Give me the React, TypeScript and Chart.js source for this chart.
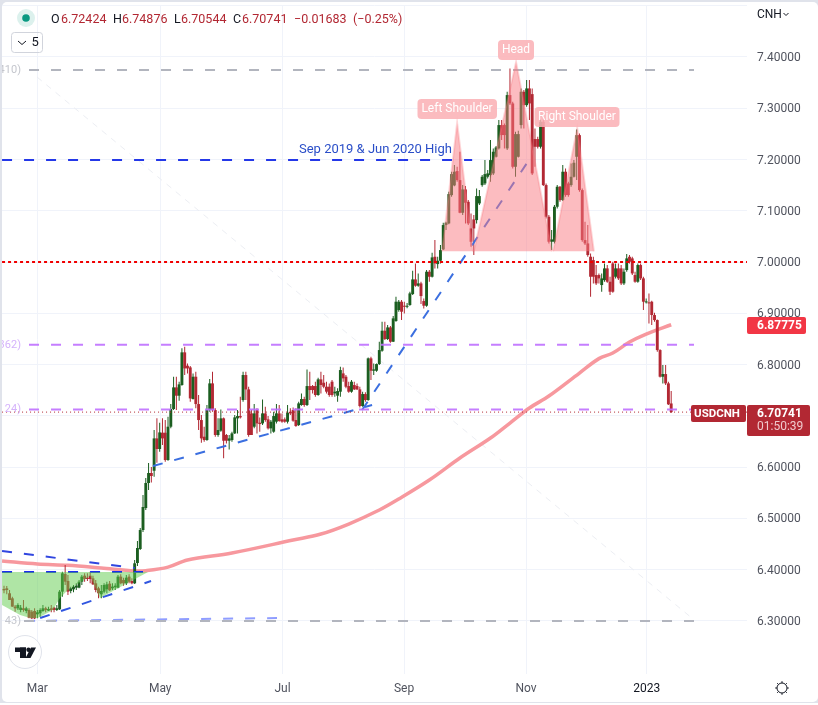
import React, { useEffect, useRef } from "react";
import { Chart, registerables } from "chart.js";

Chart.register(...registerables);

const opens = [
6.3624,6.3637,6.3540,6.3442,6.3280,6.3247,6.3215,6.3247,6.3195,6.3215,
6.3182,6.3195,6.3130,6.3150,6.3195,6.3247,6.3202,6.3247,6.3260,6.3215,
6.3228,6.3572,6.3917,6.3780,6.3585,6.3618,6.3650,6.3650,6.3767,6.3884,
6.3845,6.3884,6.3832,6.3735,6.3637,6.3520,6.3572,6.3618,6.3728,6.3637,
6.3657,6.3650,6.3865,6.3800,6.3735,6.3865,6.3780,6.3735,6.4131,6.4404,
6.4774,6.5203,6.5691,6.5886,6.5930,6.6561,6.6354,6.6672,6.6672,6.6139,
6.6789,6.7134,6.7556,6.7394,6.7602,6.8239,6.7979,6.7946,6.7329,6.7764,
6.7231,6.6919,6.6594,6.6529,6.7114,6.7634,6.7114,6.6627,6.6711,6.6952,
6.6627,6.6516,6.6529,6.6659,6.6952,6.6997,6.7309,6.7797,6.7517,6.7049,
6.6789,6.7114,6.6867,6.6854,6.7049,6.6932,6.6757,6.6692,6.6887,6.7049,
6.6932,6.6932,6.6887,6.7081,6.7114,6.6919,6.6822,6.7212,6.7329,6.7212,
6.7582,6.7582,6.7582,6.7407,6.7712,6.7647,6.7569,6.7569,6.7667,6.7439,
6.7394,6.7472,6.7829,6.7764,6.7582,6.7472,6.7602,6.7582,6.7517,6.7192,
6.7426,6.7309,6.8122,6.7881,6.7881,6.8011,6.8271,6.8661,6.8499,6.8726,
6.8447,6.8850,6.9064,6.9227,6.9142,6.9129,6.9162,6.9376,6.9662,6.9539,
6.9584,6.9240,6.9149,6.9812,6.9714,7.0104,6.9961,7.0026,7.0247,7.0722,
7.0754,7.1306,7.1495,7.1775,7.1599,7.0962,7.1417,7.1176,7.0656,7.0832,
7.0819,7.1144,7.1501,7.1534,7.1664,7.1696,7.1729,7.2054,7.2217,7.2672,
7.2672,7.2217,7.3257,7.3094,7.1859,7.2054,7.2672,7.3322,7.3062,7.3387,
7.3276,7.2399,7.2399,7.2249,7.2737,7.1502,7.0884,7.0397,7.0397,7.1079,
7.1469,7.1209,7.1762,7.1534,7.1502,7.1664,7.2054,7.2476,7.1404,7.0429,
7.0364,7.0104,7.0039,6.9747,6.9747,6.9552,6.9649,6.9877,6.9617,6.9974,
6.9714,6.9877,6.9877,6.9584,6.9844,7.0104,7.0072,6.9747,6.9617,6.9942,
6.9682,6.9214,6.9214,6.9227,6.8967,6.8869,6.8284,6.7764,6.7816,6.7634,6.72424,
];

const highs = [
6.3689,6.3683,6.3604,6.3475,6.3312,6.3345,6.3312,6.3410,6.3280,6.3247,
6.3215,6.3247,6.3215,6.3247,6.3312,6.3280,6.3280,6.3312,6.3280,6.3312,
6.3604,6.3962,6.4092,6.3897,6.3670,6.3702,6.3735,6.3800,6.3897,6.3930,
6.3930,6.3962,6.3884,6.3800,6.3670,6.3702,6.3735,6.3767,6.3780,6.3735,
6.3735,6.3897,6.3910,6.3845,6.3897,6.3910,6.3832,6.4190,6.4560,6.4813,
6.5457,6.5789,6.6081,6.6003,6.6724,6.6952,6.6867,6.6952,6.6919,6.6984,
6.7231,6.7764,6.7764,6.7667,6.8317,6.8349,6.8024,6.7972,6.7829,6.7862,
6.7407,6.7017,6.6789,6.7212,6.7719,6.7862,6.7147,6.6952,6.7127,6.6971,
6.6646,6.6627,6.6692,6.7017,6.7114,6.7374,6.7862,6.7862,6.7569,6.7114,
6.7231,6.7147,6.6971,6.7322,6.7179,6.6997,6.6919,6.7081,6.7231,6.7212,
6.7049,6.6971,6.7212,6.7147,6.7166,6.7147,6.7277,6.7439,6.7374,6.7907,
6.7862,6.7602,6.7667,6.7745,6.7862,6.7797,6.7667,6.7634,6.7699,6.7569,
6.7537,6.7959,6.7946,6.7797,6.7667,6.7699,6.7667,6.7634,6.7569,6.7472,
6.7459,6.8141,6.8154,6.8024,6.8024,6.8447,6.8837,6.8837,6.8772,6.8752,
6.8947,6.9324,6.9259,6.9259,6.9227,6.9200,6.9422,6.9831,6.9974,6.9779,
6.9617,6.9292,6.9844,6.9844,7.0182,7.0429,7.0104,7.0332,7.0767,7.0786,
7.1372,7.1762,7.1892,7.1859,7.2152,7.1501,7.1482,7.1209,7.0949,7.0917,
7.1436,7.1404,7.1696,7.1989,7.1794,7.2379,7.2217,7.2262,7.2769,7.2769,
7.2704,7.3322,7.3777,7.3127,7.2541,7.2560,7.3387,7.3354,7.3549,7.3549,
7.3387,7.2607,7.2444,7.2782,7.2801,7.1534,7.0917,7.0624,7.1112,7.1502,
7.1482,7.1892,7.1827,7.1567,7.1924,7.1989,7.2587,7.2509,7.1437,7.0786,
7.0722,7.0169,7.0104,6.9942,6.9779,6.9779,6.9974,6.9942,6.9714,7.0007,
6.9974,6.9974,6.9942,6.9877,7.0156,7.0137,7.0104,6.9812,6.9974,6.9974,
6.9714,6.9292,6.9389,6.9246,6.9012,6.8882,6.8300,6.7992,6.7992,6.7666,6.74876,
];

const lows = [
6.3540,6.3520,6.3410,6.3280,6.3182,6.3215,6.3169,6.3182,6.3150,6.3052,
6.3039,6.3039,6.3052,6.3085,6.3182,6.3169,6.3195,6.3169,6.3169,6.3195,
6.3215,6.3475,6.3702,6.3507,6.3540,6.3559,6.3604,6.3637,6.3702,6.3767,
6.3780,6.3735,6.3702,6.3559,6.3442,6.3442,6.3540,6.3540,6.3585,6.3604,
6.3604,6.3637,6.3715,6.3689,6.3702,6.3735,6.3715,6.3722,6.4072,6.4384,
6.4735,6.5164,6.5554,6.5700,6.5814,6.6087,6.6300,6.6432,6.6107,6.6126,
6.6757,6.7114,6.7114,6.7296,6.7590,6.7797,6.7829,6.7277,6.7320,6.7147,
6.6724,6.6477,6.6497,6.6516,6.7081,6.7081,6.6594,6.6594,6.6692,6.6172,
6.6464,6.6347,6.6497,6.6646,6.6659,6.6950,6.7277,6.7309,6.6594,6.6627,
6.6757,6.6659,6.6692,6.6822,6.6887,6.6737,6.6659,6.6672,6.6854,6.6887,
6.6867,6.6867,6.6854,6.7017,6.6887,6.6789,6.6802,6.7200,6.7179,6.7192,
6.7309,6.7439,6.7374,6.7394,6.7439,6.7537,6.7439,6.7374,6.7374,6.7374,
6.7277,6.7374,6.7667,6.7537,6.7452,6.7452,6.7504,6.7504,6.7166,6.7179,
6.7277,6.7296,6.7699,6.7797,6.7862,6.7992,6.8252,6.8479,6.8479,6.8427,
6.8440,6.8837,6.9032,6.8869,6.8999,6.9100,6.9149,6.9357,6.9519,6.9519,
6.9181,6.9097,6.9129,6.9617,6.9701,6.9877,6.9877,6.9974,7.0234,7.0624,
7.0740,7.1274,7.1480,7.1567,7.0950,7.0917,7.0754,7.0722,7.0299,7.0137,
7.0754,7.1112,7.1469,7.1501,7.1632,7.1567,7.1696,7.2040,7.2197,7.2379,
7.2217,7.2184,7.3062,7.1827,7.1664,7.2040,7.2607,7.2607,7.3029,7.2769,
7.1697,7.1859,7.2217,7.2217,7.1482,7.0851,7.0364,7.0234,7.0364,7.1047,
7.1177,7.1190,7.1274,7.1274,7.1469,7.1651,7.1599,7.1372,7.0397,7.0332,
7.0104,6.9324,6.9584,6.9552,6.9584,6.9422,6.9617,6.9597,6.9357,6.9402,
6.9682,6.9649,6.9552,6.9552,6.9812,6.9974,6.9747,6.9597,6.9597,6.9649,
6.9064,6.9194,6.8804,6.8771,6.8837,6.8252,6.7751,6.7634,6.7602,6.7212,6.70544,
];

const closes = [
6.3598,6.3604,6.3410,6.3280,6.3247,6.3312,6.3260,6.3215,6.3247,6.3065,
6.3052,6.3052,6.3169,6.3215,6.3247,6.3215,6.3234,6.3215,6.3215,6.3247,
6.3572,6.3930,6.3767,6.3572,6.3637,6.3670,6.3689,6.3767,6.3865,6.3819,
6.3819,6.3819,6.3715,6.3604,6.3540,6.3585,6.3702,6.3715,6.3598,6.3670,
6.3689,6.3865,6.3735,6.3735,6.3845,6.3767,6.3735,6.4125,6.4423,6.4774,
6.5223,6.5691,6.5886,6.5827,6.6561,6.6354,6.6678,6.6561,6.6139,6.6789,
6.7134,6.7556,6.7394,6.7615,6.8239,6.7926,6.7926,6.7341,6.7764,6.7231,
6.6919,6.6561,6.6529,6.7114,6.7634,6.7114,6.6627,6.6724,6.6952,6.6516,
6.6516,6.6561,6.6659,6.6971,6.6997,6.6971,6.7797,6.7517,6.6627,6.6627,
6.7049,6.6854,6.6841,6.7049,6.6919,6.6757,6.6887,6.6997,6.7049,6.6900,
6.6887,6.6887,6.7062,6.7049,6.6906,6.6802,6.7244,6.7329,6.7212,6.7582,
6.7504,6.7504,6.7407,6.7712,6.7602,6.7569,6.7472,6.7407,6.7407,6.7472,
6.7485,6.7894,6.7732,6.7569,6.7472,6.7667,6.7517,6.7517,6.7192,6.7426,
6.7309,6.8122,6.7881,6.7907,6.8011,6.8284,6.8661,6.8499,6.8726,6.8447,
6.8902,6.9227,6.9227,6.9032,6.9129,6.9142,6.9389,6.9662,6.9539,6.9584,
6.9337,6.9149,6.9812,6.9714,7.0091,6.9974,7.0026,7.0234,7.0722,7.0767,
7.1326,7.1716,7.1762,7.1599,7.0962,7.1417,7.1157,7.0754,7.0396,7.0656,
7.1287,7.1287,7.1664,7.1716,7.1729,7.1989,7.2152,7.2236,7.2672,7.2477,
7.2477,7.3257,7.3094,7.1859,7.2496,7.2496,7.3322,7.3061,7.3387,7.3094,
7.1729,7.2249,7.2249,7.2737,7.1502,7.0884,7.0397,7.0442,7.1079,7.1469,
7.1209,7.1762,7.1307,7.1307,7.1664,7.1937,7.2476,7.1404,7.0429,7.0364,
7.0137,6.9714,6.9714,6.9584,6.9682,6.9682,6.9877,6.9617,6.9422,6.9422,
6.9877,6.9682,6.9584,6.9812,7.0072,7.0007,6.9779,6.9617,6.9942,6.9682,
6.9227,6.9227,6.9194,6.8967,6.8869,6.8284,6.7764,6.7816,6.7634,6.7225,6.70741,
];

const maIndex = [-0.7,12,23,35,47,51,59,66,82,104,114,124,135,142,153,164,175,182,189,196,207,214,219,225,231,240];
const maValues = [6.4170,6.4111,6.4086,6.4033,6.3975,6.3980,6.4050,6.4190,6.4326,6.4579,6.4696,6.4891,6.5164,6.5379,6.5749,6.6178,6.6568,6.6861,6.7153,6.7387,6.7836,6.8117,6.8226,6.8440,6.8596,6.87775];

const greenIndex = [-0.7,5.8,9.4,12.2,17.6,20.1,23,31,34.5,51.8];
const greenValues = [6.3312,6.3117,6.3058,6.3058,6.3214,6.3448,6.3604,6.3877,6.3448,6.3955];
const greenBase = 6.3955;

const patternBase = 7.021;
const leftShoulderIndex = [157.6,163,168.7];
const leftShoulderValues = [7.021,7.271,7.021];
const headIndex = [169,184.2,197.1];
const headValues = [7.021,7.39,7.021];
const rightShoulderIndex = [197.5,206.2,212.2];
const rightShoulderValues = [7.021,7.2613,7.021];

const grayLevels = [7.3744, 6.3];
const purpleLevels = [6.8387, 6.7124];
const resistance = 7.0;
const lastPrice = 6.70741;
const smaLast = "6.87775";

const xTickIndex = [12,56.2,100.2,143.9,187.8,231.2];
const xTickLabels = ["Mar","May","Jul","Sep","Nov","2023"];
const yTicks = [7.4,7.3,7.2,7.1,7.0,6.9,6.8,6.7,6.6,6.5,6.4,6.3];

const legendParts = ["O","6.72424","H","6.74876","L","6.70544","C","6.70741","−0.01683","(−0.25%)"];

const GREEN = "#1b5e20";
const RED = "#b22833";

const line = (xs: number[], ys: number[], color: string, width: number, dash: number[], order: number, tension = 0) => ({
  type: "line" as const,
  data: xs.map((x, i) => ({ x, y: ys[i] })),
  borderColor: color,
  borderWidth: width,
  borderDash: dash,
  pointRadius: 0,
  tension,
  fill: false,
  order,
});

const area = (xs: number[], ys: number[], base: number, fillColor: string, edge: string, order: number) => ({
  type: "line" as const,
  data: xs.map((x, i) => ({ x, y: ys[i] })),
  borderColor: edge,
  borderWidth: 2,
  pointRadius: 0,
  tension: 0,
  fill: { value: base },
  backgroundColor: fillColor,
  order,
});

const chip = (ctx: CanvasRenderingContext2D, x: number, y: number, w: number, h: number, r: number, color: string) => {
  ctx.fillStyle = color;
  ctx.beginPath();
  ctx.roundRect(x, y, w, h, r);
  ctx.fill();
};

const text = (ctx: CanvasRenderingContext2D, s: string, x: number, y: number, color: string, font: string, align: CanvasTextAlign = "left") => {
  ctx.fillStyle = color;
  ctx.font = font;
  ctx.textAlign = align;
  ctx.textBaseline = "middle";
  ctx.fillText(s, x, y);
};

const frame = {
  id: "frame",
  beforeDraw(c: any) {
    const ctx = c.ctx;
    ctx.save();
    ctx.fillStyle = "#ffffff";
    ctx.fillRect(0, 0, 818, 705);
    ctx.fillStyle = "#e0e3eb";
    ctx.fillRect(0, 0, 818, 703);
    ctx.fillStyle = "#ffffff";
    ctx.beginPath();
    ctx.roundRect(2, 2, 816, 700, 5);
    ctx.fill();
    ctx.strokeStyle = "#f0f3fa";
    ctx.lineWidth = 1;
    ctx.beginPath();
    ctx.moveTo(2, 5.5);
    ctx.lineTo(747, 5.5);
    ctx.stroke();
    ctx.restore();
  },
};

const overlay = {
  id: "overlay",
  afterDatasetsDraw(c: any) {
    const ctx: CanvasRenderingContext2D = c.ctx;
    const y = c.scales.y;
    const F = "Roboto, sans-serif";
    ctx.save();

    // level captions, cut by the pane edge
    ctx.save();
    ctx.beginPath();
    ctx.rect(2, 5, 745, 669);
    ctx.clip();
    text(ctx, "410)", 21, y.getPixelForValue(grayLevels[0]), "#c4c6cd", `11px ${F}`, "right");
    text(ctx, "362)", 21, y.getPixelForValue(purpleLevels[0]), "#d5b3fb", `11px ${F}`, "right");
    text(ctx, "24)", 21, y.getPixelForValue(purpleLevels[1]), "#d5b3fb", `11px ${F}`, "right");
    text(ctx, "43)", 21, y.getPixelForValue(grayLevels[1]), "#c4c6cd", `11px ${F}`, "right");
    ctx.restore();

    // drawing labels
    const pink = "rgba(251,178,182,0.88)";
    chip(ctx, 417.5, 99, 79.5, 20, 4, pink);
    text(ctx, "Left Shoulder", 457, 109, "#ffffff", `12px ${F}`, "center");
    chip(ctx, 498, 40, 36, 20, 4, pink);
    text(ctx, "Head", 516, 50, "#ffffff", `12px ${F}`, "center");
    chip(ctx, 534.5, 107, 85, 20, 4, pink);
    text(ctx, "Right Shoulder", 577, 117, "#ffffff", `12px ${F}`, "center");
    text(ctx, "Sep 2019 & Jun 2020 High", 299, 150, "#2a4ec8", `13px ${F}`);

    // legend row
    ctx.fillStyle = "rgba(8,153,129,0.14)";
    ctx.beginPath();
    ctx.arc(26, 18, 9, 0, Math.PI * 2);
    ctx.fill();
    ctx.fillStyle = "#089981";
    ctx.beginPath();
    ctx.arc(26, 18, 3.8, 0, Math.PI * 2);
    ctx.fill();
    const legendX = [51, 61, 113, 122, 174, 181, 233, 242, 294, 353];
    legendParts.forEach((s, i) => {
      const isKey = i < 8 && i % 2 === 0;
      text(ctx, s, legendX[i], 19.5, isKey ? "#131722" : RED, `12.5px ${F}`);
    });

    // interval button
    ctx.strokeStyle = "#d1d4dc";
    ctx.lineWidth = 1;
    ctx.beginPath();
    ctx.roundRect(11.5, 32.5, 31, 20, 3);
    ctx.stroke();
    ctx.strokeStyle = "#131722";
    ctx.beginPath();
    ctx.moveTo(18, 41);
    ctx.lineTo(22, 44.5);
    ctx.lineTo(26, 41);
    ctx.stroke();
    text(ctx, "5", 31.5, 43, "#131722", `13px ${F}`);

    // logo
    ctx.fillStyle = "#ffffff";
    ctx.strokeStyle = "#e0e3eb";
    ctx.beginPath();
    ctx.arc(25, 652, 16.5, 0, Math.PI * 2);
    ctx.fill();
    ctx.stroke();
    ctx.fillStyle = "#131722";
    ctx.fillRect(15, 647.5, 11, 4.5);
    ctx.fillRect(20, 647.5, 6, 10.5);
    ctx.beginPath();
    ctx.arc(28.5, 649.7, 2.2, 0, Math.PI * 2);
    ctx.fill();
    ctx.beginPath();
    ctx.moveTo(36, 647.5);
    ctx.lineTo(30.5, 658);
    ctx.lineTo(25.5, 658);
    ctx.lineTo(31, 647.5);
    ctx.closePath();
    ctx.fill();

    // currency and settings
    text(ctx, "CNH", 757, 14.5, "#131722", `12px ${F}`);
    ctx.strokeStyle = "#131722";
    ctx.beginPath();
    ctx.moveTo(783.5, 13);
    ctx.lineTo(786, 15.5);
    ctx.lineTo(788.5, 13);
    ctx.stroke();
    ctx.beginPath();
    ctx.arc(782, 688, 5, 0, Math.PI * 2);
    ctx.stroke();
    for (let k = 0; k < 8; k++) {
      const a = (k * Math.PI) / 4;
      ctx.beginPath();
      ctx.moveTo(782 + Math.cos(a) * 5, 688 + Math.sin(a) * 5);
      ctx.lineTo(782 + Math.cos(a) * 6.8, 688 + Math.sin(a) * 6.8);
      ctx.stroke();
    }

    // price chips
    chip(ctx, 747, 317, 59, 17, 2, "#f23645");
    text(ctx, smaLast, 757, 326, "#ffffff", `bold 12px ${F}`);
    chip(ctx, 691, 405, 55, 17, 2, RED);
    text(ctx, "USDCNH", 717, 414, "#ffffff", `bold 11.5px ${F}`, "center");
    chip(ctx, 747, 405, 63, 31, 2, RED);
    text(ctx, lastPrice.toFixed(5), 757, 414, "#ffffff", `bold 12px ${F}`);
    text(ctx, "01:50:39", 757, 427, "#f0c9cc", `12px ${F}`);
    ctx.restore();
  },
};

export default function App() {
  const ref = useRef<HTMLCanvasElement>(null);
  useEffect(() => {
    document.body.style.margin = "0";
    const idx = opens.map((_, i) => i);
    const colors = idx.map((i) => (closes[i] >= opens[i] ? GREEN : RED));
    const chart = new Chart(ref.current as HTMLCanvasElement, {
      type: "bar",
      data: {
        datasets: [
          area(greenIndex, greenValues, greenBase, "rgba(96,204,76,0.5)", "rgba(96,204,76,0)", 2),
          area(leftShoulderIndex, leftShoulderValues, patternBase, "rgba(250,122,130,0.5)", "rgba(250,122,130,0.3)", 3),
          area(headIndex, headValues, patternBase, "rgba(250,122,130,0.5)", "rgba(250,122,130,0.3)", 3),
          area(rightShoulderIndex, rightShoulderValues, patternBase, "rgba(250,122,130,0.5)", "rgba(250,122,130,0.3)", 3),
          line([11.9, 247.8], [7.3608, 6.3041], "#eceef3", 1, [6, 6], 30),
          line(maIndex, maValues, "#f7989e", 3.5, [], 25, 0.35),
          { type: "bar" as const, data: idx.map((i) => ({ x: i, y: [lows[i], highs[i]] })), backgroundColor: colors, barThickness: 1, grouped: false, borderWidth: 0, inflateAmount: 0, minBarLength: 1, order: 20 },
          { type: "bar" as const, data: idx.map((i) => ({ x: i, y: [Math.min(opens[i], closes[i]), Math.max(opens[i], closes[i])] })), backgroundColor: colors, barThickness: 2.9, grouped: false, borderWidth: 0, inflateAmount: 0, minBarLength: 1, order: 19 },
          line([-0.7, 168.4], [7.1989, 7.1989], "#2438e8", 2, [10, 12], 10),
          line([-0.7, 50], [6.3955, 6.3955], "#1a2bf0", 2, [10, 12], 10),
          line([-0.7, 47], [6.4365, 6.4033], "#3046e0", 2, [10, 12], 10),
          line([13, 52.9], [6.3058, 6.378], "#3156e0", 2, [10, 12], 10),
          line([7.6, 98.2], [6.3, 6.3058], "#8f9dff", 2, [10, 12], 10),
          line([53.6, 132.4], [6.6022, 6.7211], "#3b6fe0", 2, [10, 12], 10),
          line([128.8, 188.1], [6.7114, 7.193], "#3b6fe0", 2, [10, 12], 10),
          line([9, 248.2], [grayLevels[0], grayLevels[0]], "#b2b5be", 2, [10, 12], 5),
          line([7.2, 248.2], [grayLevels[1], grayLevels[1]], "#b2b5be", 2, [10, 12], 5),
          line([9, 248.2], [purpleLevels[0], purpleLevels[0]], "rgba(191,112,255,0.9)", 2, [10, 12], 5),
          line([9, 248.2], [purpleLevels[1], purpleLevels[1]], "rgba(191,112,255,0.9)", 2, [10, 12], 5),
          line([-0.7, 267.3], [resistance, resistance], "#f00000", 2, [3, 3], 1),
          line([-0.7, 267.3], [lastPrice, lastPrice], RED, 1, [1, 3], 1),
        ] as any,
      },
      options: {
        responsive: false,
        animation: false,
        events: [],
        layout: { padding: { left: 2, top: 5, right: 0, bottom: 3 } },
        plugins: { legend: { display: false }, tooltip: { enabled: false } },
        scales: {
          x: {
            type: "linear",
            min: -0.72,
            max: 267.27,
            offset: false,
            border: { display: false },
            grid: { color: "#f0f3fa", drawTicks: false, offset: false },
            afterBuildTicks: (s: any) => {
              s.ticks = xTickIndex.map((value) => ({ value }));
            },
            afterFit: (s: any) => {
              s.height = 28;
              s.paddingLeft = 0;
              s.paddingRight = 0;
            },
            ticks: {
              autoSkip: false,
              maxRotation: 0,
              padding: 8,
              font: { family: "Roboto, sans-serif", size: 12 },
              color: (c: any) => (c.index === 5 ? "#131722" : "#50535e"),
              callback: (_v: any, i: number) => xTickLabels[i],
            },
          },
          y: {
            type: "linear",
            position: "right",
            min: 6.1966,
            max: 7.5014,
            border: { display: false },
            grid: { color: "#f0f3fa", drawTicks: false },
            afterBuildTicks: (s: any) => {
              s.ticks = yTicks.map((value) => ({ value }));
            },
            afterFit: (s: any) => {
              s.width = 71;
              s.paddingTop = 0;
              s.paddingBottom = 0;
            },
            ticks: {
              autoSkip: false,
              padding: 10,
              labelOffset: 1,
              font: { family: "Roboto, sans-serif", size: 12 },
              color: "#50535e",
              callback: (v: any) => Number(v).toFixed(5),
            },
          },
        },
      },
      plugins: [frame, overlay],
    } as any);
    return () => chart.destroy();
  }, []);
  return <canvas ref={ref} width={818} height={705} style={{ display: "block" }} />;
}
